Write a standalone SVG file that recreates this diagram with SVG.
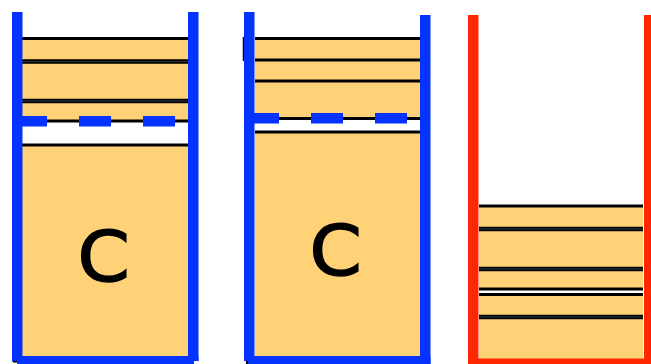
<svg xmlns="http://www.w3.org/2000/svg" width="651" height="364" viewBox="0 0 651 364">
<style>
.fill{fill:#ffd278}
.blue{fill:#0433ff}
.red{fill:#ff2600}
.l{stroke:#000;stroke-width:2.800;fill:none}
.d{stroke:#000;stroke-width:4.400;fill:none}
.g{stroke:#444;stroke-width:0.800;fill:none}
.c{font-family:"DejaVu Sans",sans-serif;font-size:70px;fill:#000;stroke:#000;stroke-width:1.500}
</style>
<rect width="651" height="364" fill="#fff"/>
<g id="tank-1">
<rect class="fill" x="22" y="39" width="167" height="82"/>
<rect class="fill" x="22" y="145" width="167" height="212"/>
<path class="l" d="M22 38.500H189M22 121H189M22 145H189"/>
<path class="d" d="M22 61.500H189M22 101H189"/>
<path class="g" d="M22 61.500H189M22 101H189"/>
<rect class="blue" x="12" y="12" width="10.500" height="349.500"/>
<rect class="blue" x="188" y="12" width="10.500" height="349"/>
<rect class="blue" x="17" y="356" width="177" height="8"/>
<rect class="blue" x="12" y="356" width="186.500" height="5"/>
<rect x="13" y="361" width="4" height="1.500"/>
<rect class="blue" x="22" y="116" width="25" height="10.500"/>
<rect class="blue" x="79" y="116" width="32" height="10.500"/>
<rect class="blue" x="143" y="116" width="32" height="10.500"/>
<text class="c" transform="translate(77.500 280.500) scale(1.07 1)">C</text>
</g>
<g id="tank-2">
<rect class="fill" x="255" y="39" width="166" height="80"/>
<rect class="fill" x="255" y="132" width="166" height="225"/>
<path class="l" d="M255 38.500H421M255 60H421M255 81H421M255 118.500H421M255 132H421"/>
<path stroke="#000" stroke-width="1.500" fill="none" d="M243.500 37V61"/>
<rect class="blue" x="244" y="12" width="10.500" height="349"/>
<rect class="blue" x="420" y="15" width="10.500" height="349"/>
<rect class="blue" x="248" y="356" width="182.500" height="8"/>
<rect class="blue" x="244" y="356" width="10" height="5"/>
<rect x="246" y="361" width="2" height="3"/>
<rect class="blue" x="254" y="113" width="25" height="10.500"/>
<rect class="blue" x="311" y="113" width="32" height="10.500"/>
<rect class="blue" x="375" y="113" width="32" height="10.500"/>
<text class="c" transform="translate(309.500 274.500) scale(1.07 1)">C</text>
</g>
<g id="tank-3">
<rect class="fill" x="479" y="206" width="164" height="83"/>
<rect class="fill" x="479" y="294" width="164" height="66"/>
<path class="l" d="M479 206H643M479 289H643M479 294.500H643"/>
<path class="d" d="M479 229H643M479 269H643M479 317H643"/>
<path class="g" d="M479 229H643M479 269H643M479 317H643"/>
<rect class="red" x="468" y="15" width="10.500" height="349"/>
<rect class="red" x="644" y="15" width="7" height="349"/>
<rect class="red" x="468" y="358.500" width="183" height="5.500"/>
</g>
</svg>
